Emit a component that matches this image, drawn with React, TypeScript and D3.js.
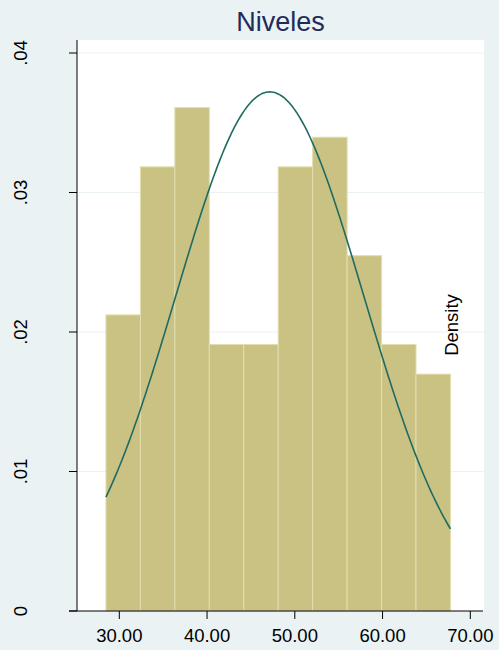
import React from "react";
import * as d3 from "d3";

const binStart = 28.48;
const binWidth = 3.926;
const counts = [10, 15, 17, 9, 9, 15, 16, 12, 9, 8];
const yTicks = [0, 0.01, 0.02, 0.03, 0.04];
const yTickLabels = ["0", ".01", ".02", ".03", ".04"];
const xTicks = [30, 40, 50, 60, 70];
const xTickLabels = ["30.00", "40.00", "50.00", "60.00", "70.00"];
const normalMean = [47.15];
const normalSd = [10.72];
const title = "Niveles";
const yLabel = "Density";

export default function App() {
  const W = 499, H = 650;
  const left = 77, right = 484, top = 40, bottom = 611;
  const x = d3.scaleLinear().domain([30, 70]).range([119.3, 470.3]);
  const y = d3.scaleLinear().domain([0, 0.04]).range([611, 53]);
  const N = d3.sum(counts);
  const bins = counts.map((c, i) => ({
    x0: binStart + i * binWidth,
    x1: binStart + (i + 1) * binWidth,
    d: c / (N * binWidth),
  }));
  const xmin = binStart, xmax = binStart + counts.length * binWidth;
  const mu = normalMean[0], sd = normalSd[0];
  const pts = d3.range(0, 201).map((i) => {
    const v = xmin + ((xmax - xmin) * i) / 200;
    const dens = Math.exp(-0.5 * ((v - mu) / sd) ** 2) / (sd * Math.sqrt(2 * Math.PI));
    return [v, dens] as [number, number];
  });
  const line = d3.line<[number, number]>().x((p) => x(p[0])).y((p) => y(p[1]));
  const font = "'Liberation Sans', Arial, Helvetica, sans-serif";
  return (
    <svg width={W} height={H} style={{ position: "absolute", left: 0, top: 0 }} fontFamily={font}>
      <rect x={0} y={0} width={W} height={H} fill="#EAF2F3" />
      <rect x={left} y={top} width={right - left} height={bottom - top} fill="#FFFFFF" />
      {yTicks.slice(1).map((t) => (
        <line key={t} x1={left} x2={right} y1={y(t)} y2={y(t)} stroke="#EAF2F3" strokeWidth={1.2} />
      ))}
      {bins.map((b, i) => (
        <rect
          key={i}
          x={x(b.x0)}
          y={y(b.d)}
          width={x(b.x1) - x(b.x0)}
          height={y(0) - y(b.d)}
          fill="#CAC283"
          stroke="#E2DEB0"
          strokeWidth={1}
        />
      ))}
      <path d={line(pts) || ""} fill="none" stroke="#1F6B63" strokeWidth={1.6} />
      <line x1={left} x2={left} y1={top} y2={bottom} stroke="#000" strokeWidth={1} />
      <line x1={69} x2={right - 1} y1={bottom} y2={bottom} stroke="#000" strokeWidth={1} />
      {yTicks.map((t, i) => (
        <g key={t}>
          <line x1={69} x2={left} y1={y(t)} y2={y(t)} stroke="#000" strokeWidth={1} />
          <text
            transform={`translate(27,${y(t)}) rotate(-90)`}
            textAnchor="middle"
            fontSize={18.5}
            fill="#000"
          >
            {yTickLabels[i]}
          </text>
        </g>
      ))}
      {xTicks.map((t, i) => (
        <g key={t}>
          <line x1={x(t)} x2={x(t)} y1={bottom} y2={bottom + 8} stroke="#000" strokeWidth={1} />
          <text x={x(t)} y={642} textAnchor="middle" fontSize={18.5} fill="#000">
            {xTickLabels[i]}
          </text>
        </g>
      ))}
      <text x={(left + right) / 2} y={31} textAnchor="middle" fontSize={27} fill="#1E2C5A">
        {title}
      </text>
      <text transform={`translate(457.5,325) rotate(-90)`} textAnchor="middle" fontSize={18.5} fill="#000">
        {yLabel}
      </text>
    </svg>
  );
}
